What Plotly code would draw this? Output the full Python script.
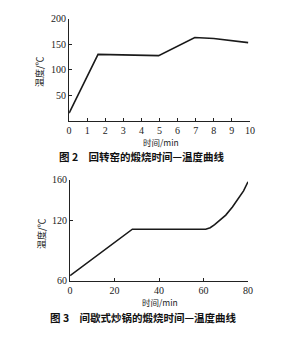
import plotly.graph_objects as go

# Figure 2: rotary kiln
kiln_time = [0, 1.6, 4.95, 6.95, 8, 9, 9.9]
kiln_temp = [15, 130, 127.5, 163, 161, 157, 153]
kiln_xticks = [0, 1, 2, 3, 4, 5, 6, 7, 8, 9, 10]
kiln_yticks = [50, 100, 150, 200]

# Figure 3: batch roaster
pan_time = [0, 28, 61, 63, 65, 67, 70, 73, 76, 78, 80]
pan_temp = [65, 111, 111, 112.5, 115.5, 119, 125, 133, 142, 149, 158]
pan_xticks = [0, 20, 40, 60, 80]
pan_yticks = [60, 120, 160]

W, H = 288, 342
def px(x): return x / W
def py(y): return 1 - y / H

num_font = dict(family="Liberation Serif, DejaVu Serif, serif", size=10, color="#222")
cjk = "Noto Sans CJK SC"

fig = go.Figure()
fig.add_trace(go.Scatter(x=kiln_time, y=kiln_temp, mode="lines",
                         line=dict(color="#1a1a1a", width=1.6),
                         xaxis="x", yaxis="y", showlegend=False))
fig.add_trace(go.Scatter(x=pan_time, y=pan_temp, mode="lines",
                         line=dict(color="#1a1a1a", width=1.6),
                         xaxis="x2", yaxis="y2", showlegend=False))

axis_common = dict(showgrid=False, zeroline=False, showline=True,
                   linecolor="#222", linewidth=1, ticks="inside",
                   ticklen=3, tickcolor="#222", tickfont=num_font)

fig.update_layout(
    width=W, height=H, margin=dict(l=0, r=0, t=0, b=0),
    paper_bgcolor="white", plot_bgcolor="white",
    xaxis=dict(domain=[px(68), px(254)], range=[0, 10], tickvals=kiln_xticks,
               anchor="y", ticklabelstandoff=0, **axis_common),
    yaxis=dict(domain=[py(119.3), py(14)], range=[0, 200], tickvals=kiln_yticks,
               anchor="x", **axis_common),
    xaxis2=dict(domain=[px(69), px(252)], range=[0, 80], tickvals=pan_xticks,
                anchor="y2", ticklabelstandoff=0, **axis_common),
    yaxis2=dict(domain=[py(284), py(180)], range=[60, 160], tickvals=pan_yticks,
                anchor="x2", **axis_common),
)

ann = [
    dict(text="时间/min", x=px(162), y=py(141), font=dict(family=cjk, size=8.5, color="#222")),
    dict(text="时间/min", x=px(161), y=py(306), font=dict(family=cjk, size=8.5, color="#222")),
    dict(text="温度/℃", x=px(37), y=py(68), textangle=-90, font=dict(family=cjk, size=9, color="#222")),
    dict(text="温度/℃", x=px(39), y=py(235), textangle=-90, font=dict(family=cjk, size=9, color="#222")),
    dict(text="<b>图 2　回转窑的煅烧时间—温度曲线</b>", x=px(143), y=py(156),
         font=dict(family=cjk, size=10.5, color="#111")),
    dict(text="<b>图 3　间歇式炒锅的煅烧时间—温度曲线</b>", x=px(144), y=py(322),
         font=dict(family=cjk, size=10.5, color="#111")),
]
for a in ann:
    fig.add_annotation(xref="paper", yref="paper", showarrow=False,
                       xanchor="center", yanchor="middle", **a)

fig.write_html("out.html")
